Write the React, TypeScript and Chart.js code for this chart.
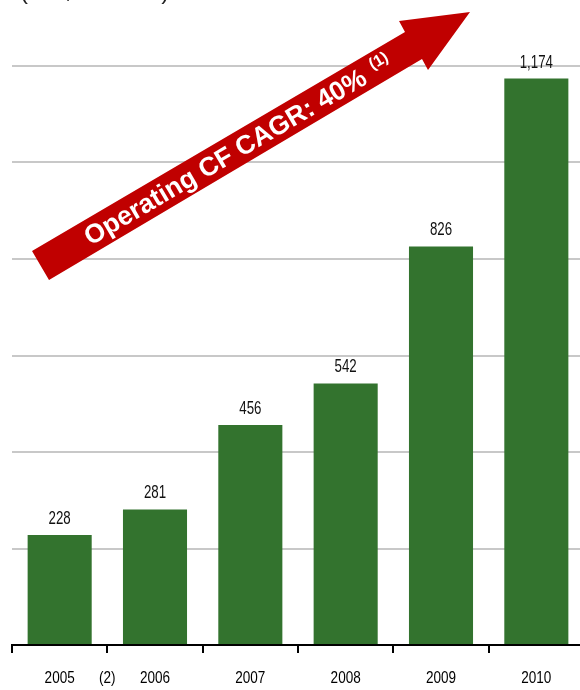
import React, { useEffect, useRef } from "react";
import { Chart, registerables } from "chart.js";

Chart.register(...registerables);

// ---- data ----
const categories = ["2005", "2006", "2007", "2008", "2009", "2010"];
const operatingCF = [228, 281, 456, 542, 826, 1174];
const yTickValues = [0, 200, 400, 600, 800, 1000, 1200];
const footnoteLabels = ["(2)"]; // placed on the boundary after 2005
const footnoteAfterIndex = [0];
const unitLabel = "(US$ millions)";
const arrowLabel = "Operating CF CAGR: 40%";
const arrowSuperscript = "(1)";

// ---- styles ----
const BAR_GREEN = "#33732E";
const ARROW_RED = "#C00000";
const GRID_GRAY = "#C8C8C8";
const SANS = '"Liberation Sans", Arial, Helvetica, sans-serif';

const fmt = (v: number) => v.toLocaleString("en-US");

function narrowText(
  ctx: CanvasRenderingContext2D,
  text: string,
  x: number,
  y: number,
  size: number,
  squeeze: number
) {
  ctx.save();
  ctx.translate(x, y);
  ctx.scale(squeeze, 1);
  ctx.font = `${size}px ${SANS}`;
  ctx.textAlign = "center";
  ctx.textBaseline = "alphabetic";
  ctx.fillText(text, 0, 0);
  ctx.restore();
}

const annotations = {
  id: "annotations",
  afterDatasetsDraw(chart: any) {
    const ctx = chart.ctx;
    const meta = chart.getDatasetMeta(0);
    ctx.save();
    ctx.fillStyle = "#111";
    meta.data.forEach((bar: any, i: number) => {
      narrowText(ctx, fmt(operatingCF[i]), bar.x, bar.y - 11, 17.5, 0.76);
    });
    ctx.restore();
  },
  afterDraw(chart: any) {
    const ctx = chart.ctx;
    const xs = chart.scales.x;
    ctx.save();

    // category labels + footnote on the x axis
    ctx.fillStyle = "#000";
    const labelY = xs.top + 38;
    categories.forEach((c, i) => narrowText(ctx, c, xs.getPixelForValue(i), labelY, 16.5, 0.82));
    footnoteAfterIndex.forEach((idx, k) => {
      const x = (xs.getPixelForValue(idx) + xs.getPixelForValue(idx + 1)) / 2;
      narrowText(ctx, footnoteLabels[k], x, labelY, 16.5, 0.82);
    });

    // unit label, cut off at the top
    ctx.textAlign = "left";
    ctx.textBaseline = "alphabetic";
    ctx.font = `24px ${SANS}`;
    ctx.fillStyle = "#222";
    ctx.fillText(unitLabel, 20, -1, 152);

    // growth arrow
    const pts = [
      [32, 251],
      [405, 32],
      [399, 21],
      [470, 12],
      [428, 70],
      [422, 59],
      [49, 280],
    ];
    ctx.beginPath();
    pts.forEach(([x, y], i) => (i === 0 ? ctx.moveTo(x, y) : ctx.lineTo(x, y)));
    ctx.closePath();
    ctx.fillStyle = ARROW_RED;
    ctx.fill();

    // arrow text along the shaft
    const ox = (32 + 49) / 2;
    const oy = (251 + 280) / 2;
    const ang = Math.atan2(32 - 251, 405 - 32);
    ctx.translate(ox, oy);
    ctx.rotate(ang);
    ctx.fillStyle = "#fff";
    ctx.font = `bold 26.5px ${SANS}`;
    ctx.textAlign = "left";
    ctx.textBaseline = "alphabetic";
    ctx.fillText(arrowLabel, 53, 8.5);
    const w = ctx.measureText(arrowLabel).width;
    ctx.font = `bold 16px ${SANS}`;
    ctx.textBaseline = "middle";
    ctx.fillText(arrowSuperscript, 53 + w + 10, -5);
    ctx.restore();
  },
};

export default function App() {
  const canvasRef = useRef<HTMLCanvasElement | null>(null);

  useEffect(() => {
    if (!canvasRef.current) return;
    const chart = new Chart(canvasRef.current, {
      type: "bar",
      data: {
        labels: categories,
        datasets: [
          {
            data: operatingCF,
            backgroundColor: BAR_GREEN,
            borderWidth: 0,
            barPercentage: 0.672,
            categoryPercentage: 1,
          },
        ],
      },
      options: {
        animation: false,
        responsive: true,
        maintainAspectRatio: false,
        layout: { padding: { left: 12, right: 8, top: 66, bottom: 0 } },
        plugins: { legend: { display: false }, tooltip: { enabled: false } },
        scales: {
          x: {
            grid: {
              offset: true,
              drawOnChartArea: false,
              color: "#000",
              lineWidth: 2,
              tickLength: 8,
            },
            border: { display: true, color: "#000", width: 2 },
            ticks: { display: false },
            afterFit: (s: any) => {
              s.height = 45;
            },
          },
          y: {
            min: yTickValues[0],
            max: yTickValues[yTickValues.length - 1],
            afterBuildTicks: (s: any) => {
              s.ticks = yTickValues.map((v) => ({ value: v }));
            },
            ticks: { display: false },
            border: { display: false },
            grid: {
              drawTicks: false,
              lineWidth: 2,
              color: (c: any) => (c.tick && c.tick.value === 0 ? "rgba(0,0,0,0)" : GRID_GRAY),
            },
            afterFit: (s: any) => {
              s.width = 0;
            },
          },
        },
      },
      plugins: [annotations],
    });
    return () => chart.destroy();
  }, []);

  return (
    <div
      style={{
        position: "fixed",
        left: 0,
        top: 0,
        width: 580,
        height: 690,
        overflow: "hidden",
        background: "#fff",
      }}
    >
      <div style={{ position: "relative", width: 592, height: 690 }}>
        <canvas ref={canvasRef} />
      </div>
    </div>
  );
}
